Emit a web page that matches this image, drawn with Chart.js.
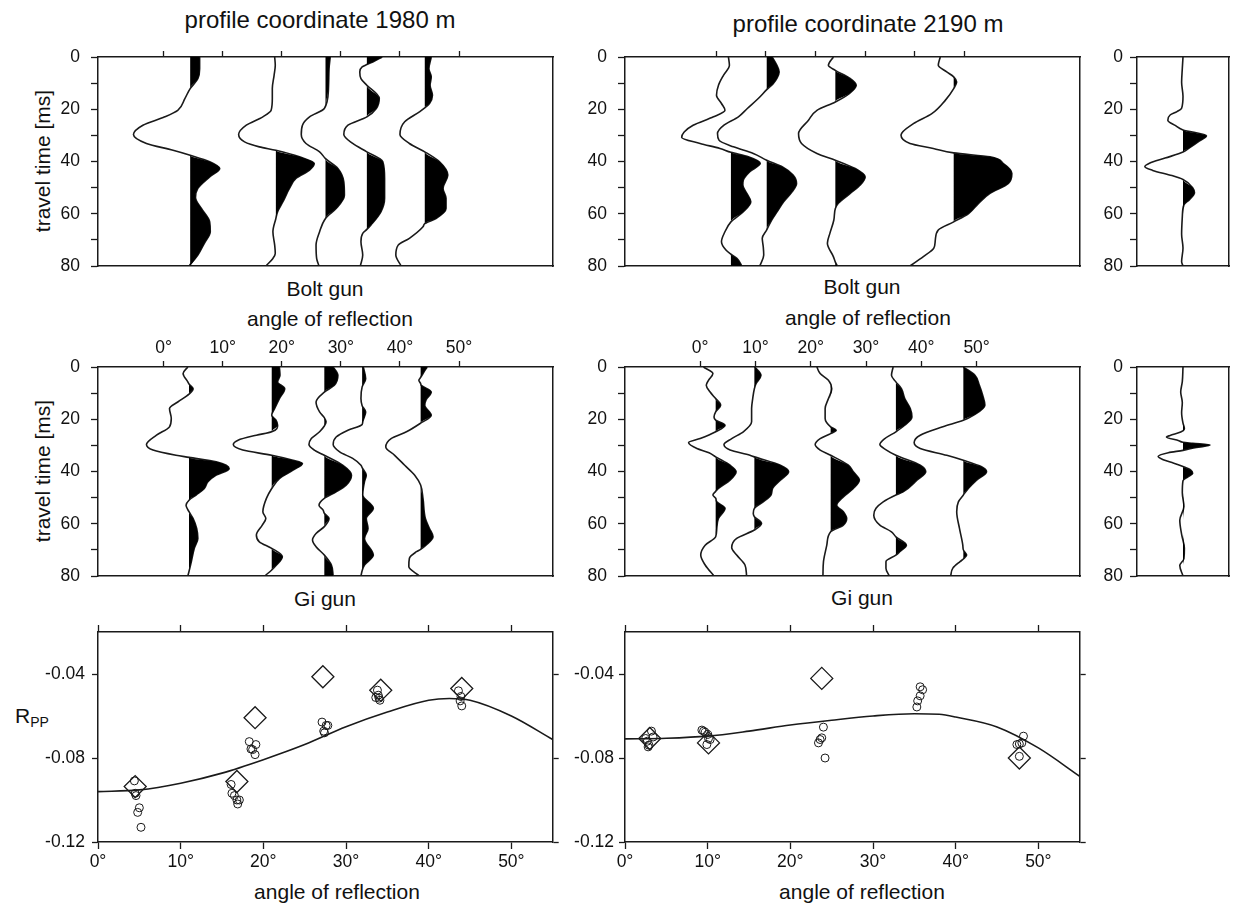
<!DOCTYPE html>
<html>
<head>
<meta charset="utf-8">
<script src="https://cdn.jsdelivr.net/npm/chart.js@4.4.1/dist/chart.umd.min.js"></script>
<style>
  html, body { margin: 0; padding: 0; background: #fff; }
  #fig { position: relative; width: 1233px; height: 903px; overflow: hidden;
         font-family: "Liberation Sans", Arial, Helvetica, sans-serif; color: #111; }
  #fig canvas { position: absolute; }
  .lbl { position: absolute; transform: translate(-50%, -50%); white-space: nowrap; line-height: 1; font-size: 21px; }
  .ttl { font-size: 24px; }
  .rot { transform: translate(-50%, -50%) rotate(-90deg); }
  .rpp sub { font-size: 14px; vertical-align: -4px; }
</style>
</head>
<body>
<div id="fig">
  <div class="lbl ttl" style="left:320px;top:20px">profile coordinate 1980 m</div>
  <div class="lbl ttl" style="left:868px;top:24px">profile coordinate 2190 m</div>

  <div class="lbl rot" style="left:42px;top:161px">travel time [ms]</div>
  <div class="lbl rot" style="left:42px;top:471px">travel time [ms]</div>

  <div class="lbl" style="left:325px;top:288px">Bolt gun</div>
  <div class="lbl" style="left:862px;top:286px">Bolt gun</div>
  <div class="lbl" style="left:330px;top:318px">angle of reflection</div>
  <div class="lbl" style="left:868px;top:317px">angle of reflection</div>

  <div class="lbl" style="left:325px;top:598px">Gi gun</div>
  <div class="lbl" style="left:862px;top:597px">Gi gun</div>

  <div class="lbl rpp" style="left:32px;top:717px">R<sub>PP</sub></div>
  <div class="lbl" style="left:337px;top:891px">angle of reflection</div>
  <div class="lbl" style="left:862px;top:891px">angle of reflection</div>
</div>
<script>
// ---- data: traces are [travel time ms, trace position in degrees] ----
const TIME_TICKS = [0, 10, 20, 30, 40, 50, 60, 70, 80];
const ANGLE_TICKS = [0, 10, 20, 30, 40, 50];
const R_TICKS = [-0.12, -0.08, -0.04];

// Bolt gun, profile 1980 m
const BOLT_1980_BASE = [4.5, 19.0, 27.4, 34.4, 44.2];
const bolt1980_1 = [[0,6.1],[4.5,6.1],[8.3,5.8],[12.1,4.5],[15.9,3.6],[20.4,2.4],[22.9,0.2],[26.1,-3.5],[29.7,-5.1],[33.1,-2.9],[35.7,1.6],[37.6,4.5],[40.1,7.8],[42.7,9.5],[45.9,7.8],[50.3,5.8],[53.8,5.4],[58.0,6.4],[63.1,7.8],[66.9,7.9],[71.3,6.9],[75.8,5.8],[80,4.3]];
const bolt1980_2 = [[0,18.8],[3.2,18.9],[7.0,18.7],[12.1,18.4],[15.9,18.4],[20.4,18.2],[22.9,16.8],[26.1,14.0],[29.7,12.7],[32.5,13.7],[34.4,16.2],[35.7,19.0],[38.2,23.0],[40.8,25.5],[43.3,24.7],[46.5,22.4],[50.3,21.3],[55.4,20.2],[59.2,19.3],[61.8,19.0],[66.9,18.5],[72.0,18.8],[75.2,18.9],[77.1,18.5],[80,17.3]];
const bolt1980_3 = [[0,28.2],[4.5,28.0],[12.1,27.9],[19.7,27.2],[22.9,24.7],[26.1,23.5],[29.7,23.3],[33.1,24.1],[36.3,26.4],[38.9,27.4],[42.7,29.5],[47.8,30.5],[52.9,30.6],[58.0,29.2],[61.8,27.4],[66.9,26.4],[72.0,25.8],[77.1,25.9],[80,26.3]];
const bolt1980_4 = [[0,37.0],[1.9,35.4],[2.9,34.4],[3.8,33.6],[5.7,33.2],[8.3,33.4],[10.8,34.4],[15.9,36.5],[19.7,36.0],[22.9,34.4],[26.1,31.2],[29.7,30.5],[33.1,32.0],[36.3,34.4],[40.1,37.1],[46.5,37.4],[54.1,37.4],[59.2,36.8],[64.3,35.1],[66.0,34.4],[67.5,33.7],[70.7,33.4],[75.8,33.7],[80,33.3]];
const bolt1980_5 = [[0,45.3],[4.5,44.9],[7.6,45.3],[10.8,45.1],[14.6,45.5],[17.8,45.0],[19.5,44.2],[21.0,43.3],[24.8,40.8],[29.7,40.0],[33.1,41.6],[36.3,44.2],[40.1,46.7],[45.2,48.1],[50.3,47.3],[54.1,47.8],[58.0,47.8],[61.8,46.1],[63.8,44.2],[65.0,43.9],[69.4,41.6],[72.0,39.7],[75.8,39.3],[80,40.2]];

// Bolt gun, profile 2190 m
const BOLT_2190_BASE = [3.0, 10.2, 24.0, 47.8];
const bolt2190_1 = [[0,2.5],[3.2,2.7],[7.0,1.5],[10.8,0.5],[14.6,0.1],[17.8,1.1],[20.4,1.8],[22.9,-0.5],[26.1,-4.6],[28.7,-6.4],[30.8,-6.9],[33.1,-3.2],[35.0,0.8],[36.5,3.0],[38.2,6.5],[40.7,8.9],[43.9,6.8],[47.1,5.5],[49.0,5.4],[52.2,6.2],[55.4,7.0],[59.2,5.5],[63.1,3.0],[66.9,1.8],[70.7,1.1],[73.9,2.0],[75.5,3.0],[77.1,4.2],[80,5.2]];
const bolt2190_2 = [[0,11.3],[3.0,12.2],[5.7,12.7],[8.0,12.3],[10.2,11.5],[12.5,10.2],[15.9,8.5],[19.7,6.3],[22.9,4.5],[26.1,1.6],[29.3,0.3],[31.8,0.6],[34.4,3.5],[36.9,7.5],[39.5,10.2],[42.0,13.3],[45.2,15.5],[48.4,16.2],[51.6,15.3],[55.4,13.6],[59.2,12.3],[62.4,11.2],[66.2,10.2],[69.4,9.3],[72.6,9.5],[75.8,9.6],[80,8.8]];
const bolt2190_3 = [[0,23.6],[3.2,22.6],[5.1,24.0],[8.0,26.8],[10.8,28.2],[14.0,26.8],[17.2,24.0],[20.4,20.3],[24.2,18.6],[29.3,16.6],[33.1,17.2],[36.9,20.3],[39.5,24.0],[42.7,28.0],[45.9,30.0],[49.0,29.0],[52.2,27.0],[56.0,24.6],[58.0,24.0],[62.4,23.7],[67.5,22.9],[71.3,22.4],[76.4,23.6],[78.5,24.0],[80,24.4]];
const bolt2190_4 = [[0,45.1],[3.2,44.7],[5.7,46.4],[7.6,47.8],[9.6,48.4],[12.1,47.8],[16.6,46.1],[21.7,43.4],[25.5,39.7],[29.9,37.2],[33.1,39.0],[35.0,43.7],[36.7,47.8],[38.2,55.1],[40.8,57.8],[44.6,59.5],[48.4,58.8],[52.2,55.1],[56.0,52.8],[59.9,50.8],[63.1,47.8],[66.2,44.7],[70.1,44.1],[73.2,43.8],[76.4,41.7],[80,39.0]];

// Gi gun, profile 1980 m
const GI_1980_BASE = [4.3, 18.3, 27.2, 33.6, 43.5];
const gi1980_1 = [[0,4.1],[2.5,3.3],[5.7,4.1],[6.5,4.3],[8.3,5.0],[10.4,4.3],[13.4,2.4],[15.9,1.0],[19.7,1.3],[22.9,1.0],[26.1,-1.2],[29.7,-2.9],[31.8,-1.8],[33.8,2.1],[34.6,4.3],[36.3,8.9],[38.9,11.1],[41.4,8.9],[43.9,7.5],[46.5,6.9],[49.0,5.5],[51.0,4.3],[52.9,3.8],[55.4,4.3],[58.0,5.0],[61.8,5.6],[65.6,5.8],[69.4,5.2],[74.5,4.7],[78.3,4.3],[80,4.1]];
const gi1980_2 = [[0,19.6],[3.2,19.7],[5.7,19.3],[8.3,20.5],[12.1,19.6],[15.9,18.8],[18.5,18.3],[20.3,19.0],[22.3,19.3],[24.8,18.3],[26.1,15.7],[28.0,12.6],[29.7,11.8],[31.8,13.4],[33.8,18.3],[35.7,21.9],[36.9,23.5],[39.5,21.9],[42.7,19.6],[46.5,18.3],[50.3,17.4],[55.4,16.8],[58.0,17.3],[60.5,16.7],[64.3,15.7],[66.9,16.2],[69.4,18.3],[72.6,20.1],[75.8,19.1],[77.7,18.3],[80,17.1]];
const gi1980_3 = [[0,28.7],[3.2,29.5],[7.0,28.9],[9.6,27.2],[13.4,25.8],[17.2,26.4],[19.4,27.2],[21.0,27.5],[22.6,27.2],[24.8,26.4],[27.4,25.0],[29.7,24.6],[31.8,25.5],[33.8,27.2],[37.6,30.3],[41.4,31.8],[45.2,30.9],[47.8,29.2],[50.3,27.2],[52.9,26.3],[54.8,27.0],[56.0,27.2],[58.0,28.0],[61.1,27.2],[63.7,25.8],[66.2,25.2],[68.8,25.8],[72.0,27.2],[75.8,28.4],[80,28.7]];
const gi1980_4 = [[0,33.8],[4.5,34.2],[7.6,33.6],[12.1,33.4],[14.8,33.6],[17.2,34.2],[21.0,33.7],[22.0,33.6],[24.2,31.2],[26.8,29.2],[29.7,28.7],[32.5,29.8],[35.0,32.0],[37.6,33.4],[38.5,33.6],[41.4,34.3],[43.9,34.0],[49.0,33.7],[54.1,35.5],[58.0,34.3],[61.8,34.6],[65.6,34.0],[72.0,35.5],[75.8,34.0],[78.0,33.6],[80,33.4]];
const gi1980_5 = [[0,44.6],[2.5,43.9],[4.0,43.5],[5.1,43.2],[6.3,43.5],[7.0,43.6],[9.6,45.3],[12.7,44.4],[14.6,44.2],[18.5,45.3],[21.5,43.5],[24.8,41.1],[27.4,38.5],[30.6,37.6],[33.8,39.1],[37.6,40.8],[41.4,42.5],[45.2,43.5],[50.3,43.9],[58.0,44.3],[61.8,45.0],[65.0,45.6],[68.2,44.4],[69.8,43.5],[70.7,42.8],[73.2,41.6],[76.4,41.5],[80,43.3]];

// Gi gun, profile 2190 m
const GI_2190_BASE = [2.8, 9.8, 23.6, 35.4, 47.6];
const gi2190_1 = [[0,0.6],[2.5,2.3],[5.1,1.5],[7.0,1.1],[9.6,1.8],[12.1,2.8],[14.6,3.7],[17.2,2.8],[19.1,2.5],[20.3,2.8],[22.3,4.5],[24.8,2.8],[27.4,0.0],[28.9,-2.1],[31.2,-0.6],[32.8,1.6],[34.4,2.8],[37.6,5.4],[40.1,6.5],[43.3,5.4],[46.5,3.3],[47.6,2.8],[49.0,2.3],[50.2,2.8],[51.6,3.0],[54.1,4.5],[58.0,3.3],[61.8,3.0],[65.0,2.8],[68.2,0.9],[72.0,0.1],[75.8,0.9],[80,2.5]];
const gi2190_2 = [[0,9.9],[3.2,11.0],[6.4,10.1],[8.3,9.8],[12.1,9.5],[15.9,9.3],[21.0,9.3],[24.8,7.8],[27.4,5.7],[29.7,4.3],[31.8,5.4],[33.8,9.0],[34.4,9.8],[37.6,14.5],[40.1,16.0],[43.3,14.5],[46.5,13.1],[49.0,12.8],[51.6,11.4],[54.1,9.8],[56.1,9.6],[57.3,9.8],[59.9,11.1],[62.4,9.8],[65.6,6.6],[69.1,5.7],[72.0,6.6],[75.8,8.1],[80,8.4]];
const gi2190_3 = [[0,21.1],[2.5,21.7],[5.1,23.2],[8.3,23.8],[12.1,23.2],[15.9,22.6],[19.7,22.6],[22.9,23.6],[24.2,24.6],[25.5,23.6],[27.4,21.7],[29.7,20.8],[31.8,21.7],[33.8,23.6],[37.6,26.8],[40.1,27.7],[43.3,28.8],[46.5,27.7],[49.7,25.9],[52.9,24.7],[55.4,25.9],[58.0,26.5],[60.5,25.9],[63.1,23.6],[68.2,22.9],[74.5,22.3],[80,22.2]];
const gi2190_4 = [[0,34.9],[3.2,34.6],[5.7,35.4],[8.3,36.4],[12.1,37.0],[15.9,38.0],[19.1,38.3],[22.3,37.0],[24.8,35.4],[27.4,33.4],[29.7,32.5],[31.8,33.7],[33.8,35.4],[37.6,39.8],[40.1,40.8],[43.3,39.2],[47.8,36.7],[49.0,35.4],[51.6,33.1],[54.1,31.8],[56.7,31.4],[60.5,32.5],[63.1,34.6],[65.0,35.4],[68.2,37.3],[70.7,36.1],[72.0,35.4],[74.5,33.6],[77.0,33.6],[80,34.2]];
const gi2190_5 = [[0,47.6],[3.2,49.7],[7.0,50.5],[10.8,51.1],[14.6,51.5],[18.5,49.4],[20.4,47.6],[22.9,43.9],[26.1,39.8],[28.9,38.7],[31.2,39.8],[33.8,44.6],[35.7,47.6],[38.2,50.9],[40.1,51.8],[43.3,50.0],[46.5,48.5],[49.0,47.6],[51.6,46.7],[55.4,46.4],[61.8,46.9],[68.2,47.5],[70.0,47.6],[72.0,48.2],[73.5,47.6],[74.5,47.0],[77.0,45.7],[80,45.3]];

// source wavelets (relative amplitude)
const srcBolt = [[0,0],[4.4,-0.015],[9.7,-0.03],[15,0],[19.6,-0.03],[20.9,-0.13],[22.2,-0.28],[24.2,-0.33],[26.2,-0.17],[27.9,0],[30.1,0.51],[32.1,0.36],[34.8,0.14],[36.4,0],[38.7,-0.39],[40.7,-0.73],[42.0,-0.83],[43.4,-0.66],[45.4,-0.24],[46.9,0],[50.0,0.21],[52.0,0.25],[54.6,0.14],[56.6,0.02],[61.2,-0.015],[67.8,-0.03],[73.1,0],[78.4,-0.03],[80,0]];
const srcGi = [[0,0],[5.6,-0.015],[9.6,-0.05],[13.6,-0.015],[17.5,-0.03],[21.5,0],[23.5,0.03],[24.9,-0.05],[26.2,-0.28],[26.8,-0.36],[28.2,-0.09],[28.8,0],[29.2,0.21],[29.9,0.59],[30.8,0.29],[31.9,0],[32.8,-0.32],[34.2,-0.54],[35.5,-0.43],[36.8,-0.2],[38.1,0],[39.5,0.17],[40.8,0.21],[42.1,0.1],[43.5,0],[48.1,-0.015],[53.4,0.02],[58.7,-0.07],[64.1,-0.03],[69.4,0.03],[73.4,0.02],[76,-0.07],[80,0]];

// AVO, profile 1980 m  [angle deg, R_PP]
const avo1980Curve = [[0,-0.096],[5,-0.0952],[10,-0.092],[15,-0.0872],[20,-0.0808],[25,-0.0736],[30,-0.0651],[35,-0.0581],[40,-0.0525],[42.5,-0.0517],[45,-0.0525],[50,-0.060],[55,-0.0712]];
const avo1980Diamonds = [[4.5,-0.0936],[16.8,-0.0912],[19.0,-0.0608],[27.2,-0.0413],[34.2,-0.0477],[44.0,-0.0469]];
const avo1980Circles = [[4.4,-0.0909],[4.6,-0.0979],[4.5,-0.0968],[5.0,-0.1037],[4.8,-0.1059],[5.2,-0.113],
  [16.1,-0.0926],[16.2,-0.0968],[16.5,-0.0979],[16.8,-0.100],[16.9,-0.1019],[17.1,-0.100],
  [18.3,-0.0722],[18.5,-0.0757],[19.1,-0.0736],[18.7,-0.076],[19.0,-0.0784],
  [27.1,-0.0629],[27.6,-0.0645],[27.8,-0.0645],[27.3,-0.0672],[27.4,-0.068],
  [33.8,-0.0477],[33.6,-0.0512],[34.0,-0.0515],[34.1,-0.0525],[33.9,-0.0501],
  [43.6,-0.048],[43.9,-0.0507],[43.8,-0.0528],[44.0,-0.0552]];

// AVO, profile 2190 m
const avo2190Curve = [[0,-0.0709],[5,-0.0706],[10,-0.0696],[15,-0.0672],[20,-0.0643],[25,-0.0620],[30,-0.0600],[35,-0.0589],[38,-0.0592],[40,-0.0605],[45,-0.0652],[50,-0.0752],[55,-0.0887]];
const avo2190Diamonds = [[3.0,-0.0707],[10.1,-0.0728],[23.8,-0.0421],[47.7,-0.080]];
const avo2190Circles = [[2.5,-0.0707],[3.2,-0.0672],[3.4,-0.070],[2.9,-0.0739],[2.8,-0.0747],[2.7,-0.072],
  [9.3,-0.0667],[9.5,-0.0672],[9.7,-0.0678],[10.0,-0.0688],[10.1,-0.0707],[9.9,-0.0736],[10.3,-0.0712],
  [24.0,-0.0653],[23.8,-0.0704],[23.6,-0.0712],[23.4,-0.0728],[24.2,-0.080],
  [35.7,-0.0461],[36.0,-0.0475],[35.7,-0.0504],[35.4,-0.0528],[35.3,-0.0557],
  [47.4,-0.0736],[47.7,-0.0733],[48.0,-0.0728],[48.2,-0.0696],[47.7,-0.0792]];

// ---- drawing ----
Chart.defaults.font.family = '"Liberation Sans", Arial, Helvetica, sans-serif';
Chart.defaults.font.size = 17.5;
Chart.defaults.color = '#111';
Chart.defaults.animation = false;
Chart.defaults.events = [];
Chart.defaults.plugins.legend.display = false;
Chart.defaults.plugins.tooltip.enabled = false;

const INK = '#1a1a1a';
const fig = document.getElementById('fig');

function addCanvas(left, top, w, h) {
  const c = document.createElement('canvas');
  c.width = w; c.height = h;
  c.style.left = left + 'px'; c.style.top = top + 'px';
  c.style.width = w + 'px'; c.style.height = h + 'px';
  fig.appendChild(c);
  return c;
}

function fitSize(size) {
  return s => { if (s.isHorizontal()) s.height = size; else s.width = size; };
}

// frame side with no ticks
function plainAxis(position, min, max, size, reverse) {
  return {
    type: 'linear', position, min, max, reverse: !!reverse,
    afterFit: fitSize(size),
    border: { display: true, color: INK, width: 1.5 },
    grid: { drawOnChartArea: false, drawTicks: false },
    ticks: { display: false }
  };
}

// frame side with ticks at fixed values, labels optional
function tickAxis(position, min, max, size, vals, o) {
  return {
    type: 'linear', position, min, max, reverse: !!o.reverse,
    afterBuildTicks: s => { s.ticks = vals.map(v => ({ value: v })); },
    afterFit: fitSize(size),
    border: { display: true, color: INK, width: 1.5 },
    grid: { drawOnChartArea: false, drawTicks: true, tickLength: o.len, tickColor: INK, tickWidth: 1.3 },
    ticks: { display: !!o.label, autoSkip: false, maxRotation: 0, padding: o.pad || 3, callback: o.label || (v => v) }
  };
}

function traceDatasets(traces, bases) {
  const ds = [];
  traces.forEach((pts, i) => {
    const base = bases[i];
    ds.push({
      data: pts.map(p => ({ x: Math.max(p[1], base), y: p[0] })),
      fill: { value: base }, backgroundColor: '#000',
      borderColor: 'rgba(0,0,0,0)', borderWidth: 0, pointRadius: 0,
      cubicInterpolationMode: 'monotone'
    });
    ds.push({
      data: pts.map(p => ({ x: p[1], y: p[0] })),
      fill: false, borderColor: INK, borderWidth: 1.6, pointRadius: 0,
      cubicInterpolationMode: 'monotone'
    });
  });
  return ds;
}

const timeLabel = v => (v % 20 === 0 ? String(v) : '');
const degLabel = v => v + '\u00b0';

function tracePanel(left, top, w, h, xr, traces, bases, withLabels) {
  const leftW = 60, rightW = 4, bottomH = 25, topH = withLabels ? 45 : 25;
  const cv = addCanvas(left - leftW, top - topH, leftW + w + rightW, topH + h + bottomH);
  new Chart(cv, {
    type: 'line',
    data: { datasets: traceDatasets(traces, bases) },
    options: {
      responsive: false, indexAxis: 'y',
      layout: { padding: 0 },
      scales: {
        x: tickAxis('top', xr[0], xr[1], topH, ANGLE_TICKS, { len: 6, pad: 2, label: withLabels ? degLabel : null }),
        xb: plainAxis('bottom', xr[0], xr[1], bottomH),
        y: tickAxis('left', 0, 80, leftW, TIME_TICKS, { len: 7, pad: 11, label: timeLabel, reverse: true }),
        yr: plainAxis('right', 0, 80, rightW, true)
      }
    }
  });
}

function sourcePanel(left, top, w, h, trace) {
  const leftW = 50, rightW = 4, bottomH = 25, topH = 25;
  const cv = addCanvas(left - leftW, top - topH, leftW + w + rightW, topH + h + bottomH);
  new Chart(cv, {
    type: 'line',
    data: { datasets: traceDatasets([trace], [0]) },
    options: {
      responsive: false, indexAxis: 'y',
      layout: { padding: 0 },
      scales: {
        x: plainAxis('top', -1, 1, topH),
        xb: plainAxis('bottom', -1, 1, bottomH),
        y: tickAxis('left', 0, 80, leftW, TIME_TICKS, { len: 7, pad: 7, label: timeLabel, reverse: true }),
        yr: plainAxis('right', 0, 80, rightW, true)
      }
    }
  });
}

function avoPanel(left, top, w, h, curve, diamonds, circles, yPad) {
  const leftW = 70, rightW = 12, topH = 25, bottomH = 45;
  const cv = addCanvas(left - leftW, top - topH, leftW + w + rightW, topH + h + bottomH);
  const xy = arr => arr.map(p => ({ x: p[0], y: p[1] }));
  new Chart(cv, {
    type: 'line',
    data: {
      datasets: [
        { data: xy(curve), borderColor: INK, borderWidth: 1.6, pointRadius: 0, fill: false, cubicInterpolationMode: 'monotone' },
        { data: xy(diamonds), showLine: false, pointStyle: 'rectRot', pointRadius: 11,
          pointBorderWidth: 1.3, pointBorderColor: INK, pointBackgroundColor: 'rgba(0,0,0,0)' },
        { data: xy(circles), showLine: false, pointStyle: 'circle', pointRadius: 4,
          pointBorderWidth: 1, pointBorderColor: INK, pointBackgroundColor: 'rgba(0,0,0,0)' }
      ]
    },
    options: {
      responsive: false,
      layout: { padding: 0 },
      scales: {
        x: tickAxis('bottom', 0, 55, bottomH, ANGLE_TICKS, { len: 7, pad: 3, label: degLabel }),
        xt: tickAxis('top', 0, 55, topH, ANGLE_TICKS, { len: 7 }),
        y: tickAxis('left', -0.12, -0.02, leftW, R_TICKS, { len: 6, pad: yPad, label: v => v.toFixed(2) }),
        yr: tickAxis('right', -0.12, -0.02, rightW, R_TICKS, { len: 6 })
      }
    }
  });
}

// panel placement
const COL1 = 98, COL2 = 625, COL3 = 1137, PW = 455, SW = 92;
const ROW1 = 57, ROW2 = 367, ROW3 = 632, PH = 209;

tracePanel(COL1, ROW1, PW, PH, [-11.1, 65.9], [bolt1980_1, bolt1980_2, bolt1980_3, bolt1980_4, bolt1980_5], BOLT_1980_BASE, false);
tracePanel(COL2, ROW1, PW, PH, [-18.3, 73.2], [bolt2190_1, bolt2190_2, bolt2190_3, bolt2190_4], BOLT_2190_BASE, false);
tracePanel(COL1, ROW2, PW, PH, [-11.1, 65.9], [gi1980_1, gi1980_2, gi1980_3, gi1980_4, gi1980_5], GI_1980_BASE, true);
tracePanel(COL2, ROW2, PW, PH, [-13.6, 68.7], [gi2190_1, gi2190_2, gi2190_3, gi2190_4, gi2190_5], GI_2190_BASE, true);
sourcePanel(COL3, ROW1, SW, PH, srcBolt);
sourcePanel(COL3, ROW2, SW, PH, srcGi);
avoPanel(COL1, ROW3, PW, 210, avo1980Curve, avo1980Diamonds, avo1980Circles, 7);
avoPanel(COL2, ROW3, PW, 210, avo2190Curve, avo2190Diamonds, avo2190Circles, 5);
</script>
</body>
</html>
